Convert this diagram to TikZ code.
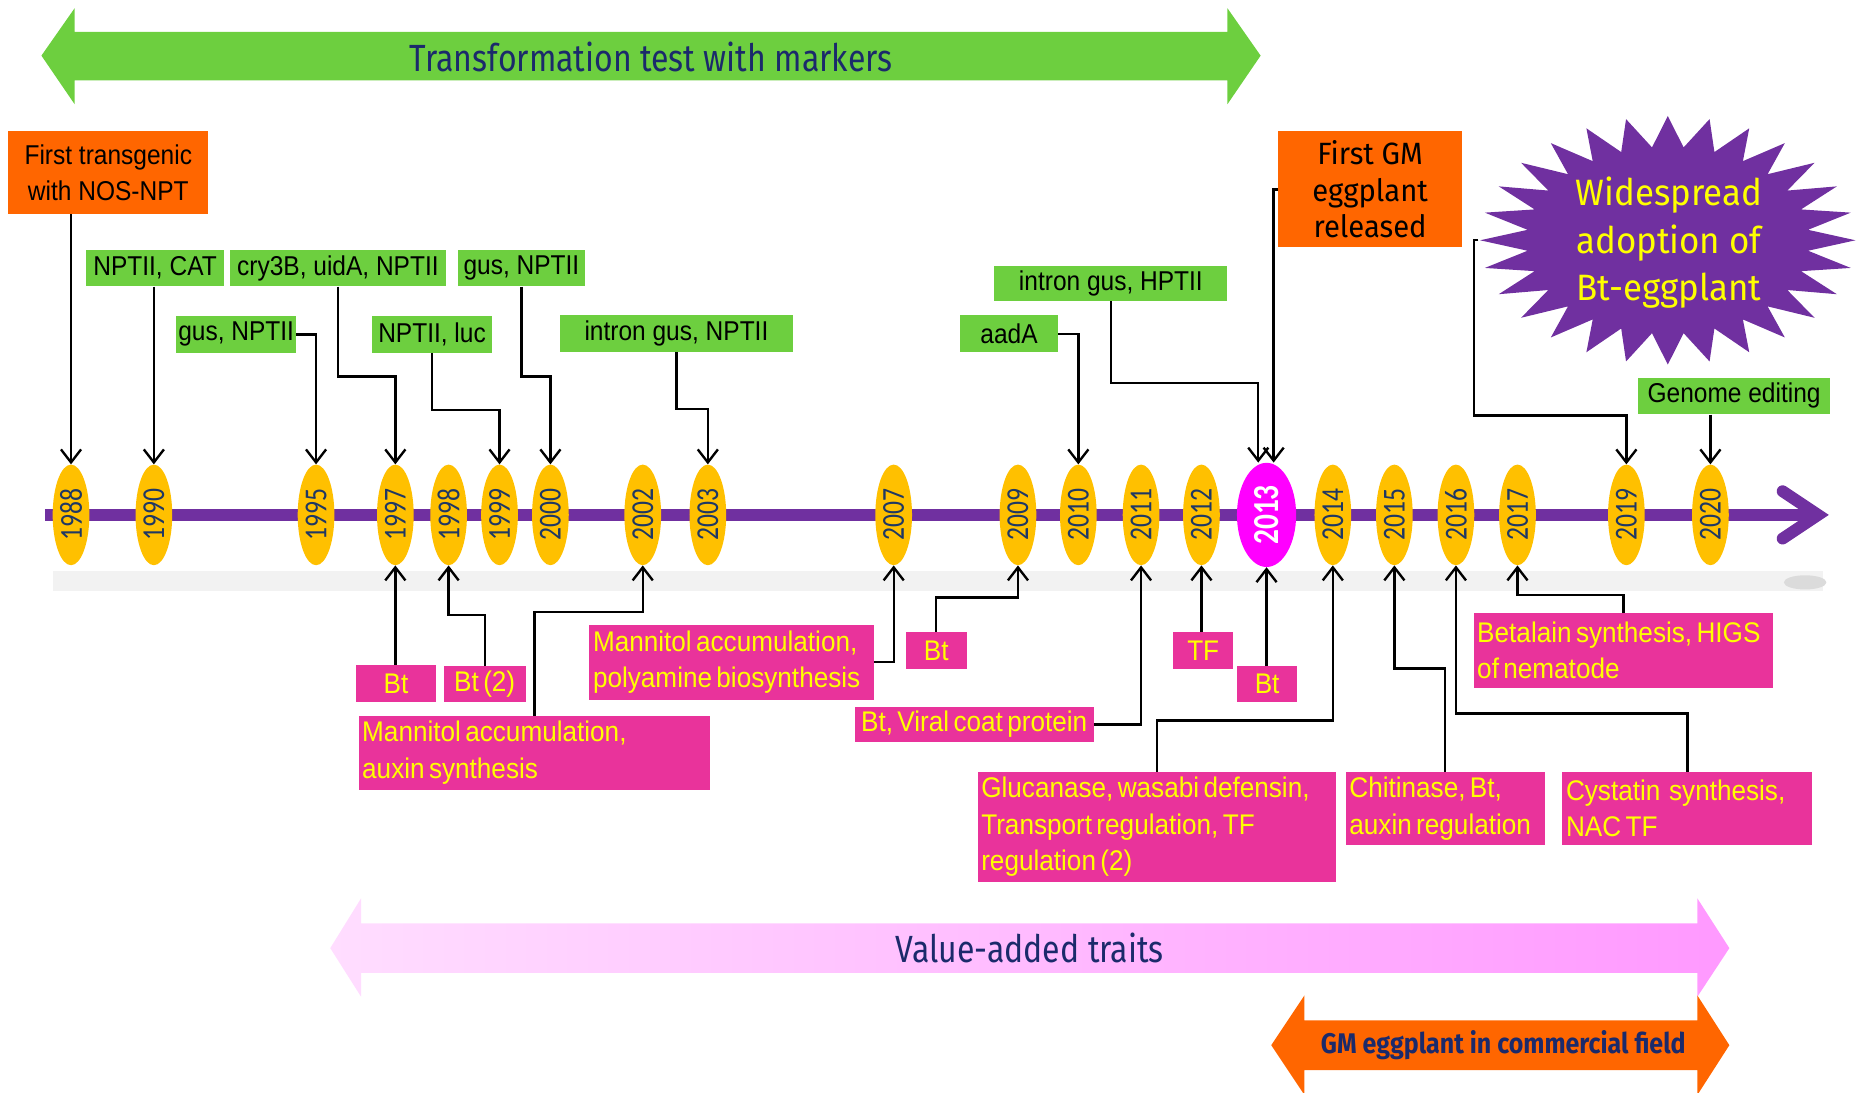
\documentclass[tikz,border=0pt]{standalone}
\usepackage{fontspec}
\usepackage{graphicx}
\usetikzlibrary{shapes.geometric, arrows.meta}

\newfontfamily\boxfont[FakeStretch=0.9]{Liberation Sans}
\newfontfamily\traitfont[FakeStretch=0.92, WordSpace=0.6]{Liberation Sans}
\newfontfamily\yearfont[FakeStretch=0.8]{Carlito}
\newfontfamily\bannerfont[FakeStretch=0.845]{Fira Sans}
\newfontfamily\fieldfont[FakeStretch=0.88]{Fira Sans}
\newfontfamily\calloutfont[FakeStretch=0.95]{Fira Sans}

\definecolor{markgreen}{HTML}{6DCF3F}
\definecolor{eventorange}{HTML}{FF6600}
\definecolor{traitpink}{HTML}{E9339B}
\definecolor{traityellow}{HTML}{FFFF00}
\definecolor{yeargold}{HTML}{FFC000}
\definecolor{yearblue}{HTML}{1F3864}
\definecolor{axispurple}{HTML}{7030A0}
\definecolor{hotmagenta}{HTML}{FF00FF}
\definecolor{bannerblue}{HTML}{1B2A6B}
\definecolor{valueleft}{HTML}{FFDDFF}
\definecolor{valueright}{HTML}{FF99FF}

\tikzset{
    yearnode/.style={ellipse, fill=yeargold, inner sep=0pt, minimum width=31,
        minimum height=85, text=yearblue, font=\yearfont\fontsize{27}{27}\selectfont},
    markbox/.style={fill=markgreen, text=black, inner sep=0pt, minimum height=31,
        font=\boxfont\fontsize{23}{27}\selectfont},
    traitbox/.style={fill=traitpink, text=traityellow, inner xsep=3pt, inner ysep=0pt,
        minimum height=31, font=\traitfont\fontsize{24}{31}\selectfont},
    eventbox/.style={fill=eventorange, text=black, inner sep=0pt, align=center},
    bannerlabel/.style={text=bannerblue, font=\bannerfont\fontsize{32}{32}\selectfont},
    link/.style={draw, line width=2pt, -{Straight Barb[length=11pt, width=17pt]}}
}

\begin{document}
\begin{tikzpicture}[x=1pt, y=-1pt]

    \useasboundingbox (0,0) rectangle (1568,923);

    % Phase banners, drawn as double headed block arrows
    \fill[markgreen] (35,47) -- (63,7) -- (63,27) -- (1037,27) -- (1037,7) -- (1065,47)
        -- (1037,88) -- (1037,68) -- (63,68) -- (63,88) -- cycle;
    \node[bannerlabel] (markers) at (550,48) {Transformation test with markers};

    \shade[left color=valueleft, right color=valueright] (279,801) -- (305,759) -- (305,780)
        -- (1434,780) -- (1434,759) -- (1461,801) -- (1434,842) -- (1434,822) -- (305,822)
        -- (305,842) -- cycle;
    \node[bannerlabel] (traits) at (870,801) {Value-added traits};

    \fill[eventorange] (1074,883) -- (1102,841) -- (1102,862) -- (1434,862) -- (1434,841)
        -- (1461,883) -- (1434,925) -- (1434,904) -- (1102,904) -- (1102,925) -- cycle;
    \node[bannerlabel, font=\fieldfont\bfseries\fontsize{24}{24}\selectfont] (field)
        at (1270,883) {GM eggplant in commercial field};

    % Faint shadow below the time axis
    \fill[black!5] (45,482) rectangle (1540,499);
    \fill[black!14] (1525,492) ellipse (18 and 6);

    % Time axis
    \draw[axispurple, line width=10pt,
        -{Straight Barb[length=30pt, width=40pt, line cap=round, line join=miter]}]
        (38,435) -- (1545,435);

    % Years along the axis
    \foreach \yr/\xx in {1988/60, 1990/130, 1995/267, 1997/334, 1998/379, 1999/422,
        2000/465, 2002/543, 2003/598, 2007/755, 2009/860, 2010/911, 2011/964,
        2012/1015, 2014/1126, 2015/1178, 2016/1230, 2017/1282, 2019/1374, 2020/1445}
        \node[yearnode] (y\yr) at (\xx,435) {\rotatebox{90}{\yr}};
    \node[yearnode, fill=hotmagenta, text=white, minimum width=50, minimum height=88,
        font=\yearfont\bfseries\fontsize{31}{31}\selectfont] (y2013) at (1070,435)
        {\rotatebox{90}{2013}};

    % Markers tested, above the axis
    \node[eventbox, minimum width=169, minimum height=70,
        font=\boxfont\fontsize{23}{31}\selectfont] (firsttg) at (91.5,146)
        {First transgenic\\with NOS-NPT};
    \node[markbox, minimum width=116] (mk1990) at (131,226.5) {NPTII, CAT};
    \node[markbox, minimum width=183] (mk1997) at (285.5,226.5) {cry3B, uidA, NPTII};
    \node[markbox, minimum width=107] (mk2000) at (440.5,226.5) {gus, NPTII};
    \node[markbox, minimum width=101] (mk1995) at (199.5,282.5) {gus, NPTII};
    \node[markbox, minimum width=102] (mk1999) at (365,282.5) {NPTII, luc};
    \node[markbox, minimum width=197] (mk2003) at (571.5,282) {intron gus, NPTII};
    \node[markbox, minimum width=83] (mk2010) at (852.5,282) {aadA};
    \node[markbox, minimum width=197, minimum height=30] (mk2013) at (938.5,239.5)
        {intron gus, HPTII};
    \node[eventbox, minimum width=155, minimum height=98,
        font=\calloutfont\fontsize{26}{31}\selectfont] (firstgm) at (1157.5,160)
        {First GM\\eggplant\\released};
    \node[markbox, minimum width=162] (mk2020) at (1465,334.5) {Genome editing};

    % Starburst for the adoption of Bt-eggplant
    \node[star, star points=28, star point ratio=1.33, fill=axispurple, inner sep=0pt,
        minimum size=210, xscale=1.51, transform shape] (burstshape) at (1409,203) {};
    \coordinate (burstedge) at (1249,203);
    \node[text=traityellow, align=center, font=\calloutfont\fontsize{31}{40}\selectfont]
        (burst) at (1410,205) {Widespread\\adoption of\\Bt-eggplant};

    % Traits added, below the axis
    \node[traitbox, minimum width=67] (tr1997) at (334.5,577.5) {Bt};
    \node[traitbox, minimum width=69, minimum height=30] (tr1998) at (409.5,578) {Bt (2)};
    \node[traitbox, text width=291, minimum height=62, align=flush left] (tr2002)
        at (451.5,636) {Mannitol accumulation,\\auxin synthesis};
    \node[traitbox, text width=234, minimum height=63, align=flush left] (tr2007)
        at (618,559.5) {Mannitol accumulation,\\polyamine biosynthesis};
    \node[traitbox, minimum width=52] (tr2009) at (791,549.5) {Bt};
    \node[traitbox, minimum width=202, minimum height=30] (tr2011) at (823,612)
        {Bt, Viral coat protein};
    \node[traitbox, minimum width=51] (tr2012) at (1016.5,549.5) {TF};
    \node[traitbox, minimum width=51, minimum height=30] (tr2013) at (1070.5,578) {Bt};
    \node[traitbox, text width=297, minimum height=93, align=flush left] (tr2014)
        at (977.5,698.5) {Glucanase, wasabi defensin,\\Transport regulation, TF\\regulation (2)};
    \node[traitbox, text width=162, minimum height=62, align=flush left] (tr2015)
        at (1221,683) {Chitinase, Bt,\\auxin regulation};
    \node[traitbox, text width=205, minimum height=62, align=flush left] (tr2016)
        at (1425.5,683) {Cystatin\ \ synthesis,\\NAC TF};
    \node[traitbox, text width=247, minimum height=63, align=flush left] (tr2017)
        at (1371.5,549.5) {Betalain synthesis, HIGS\\of nematode};

    % Connectors from the markers down to their years
    \begin{scope}[link]
        \draw (firsttg.south -| y1988.north) -- (y1988.north);
        \draw (mk1990.south -| y1990.north) -- (y1990.north);
        \draw (mk1995.east) -| (y1995.north);
        \draw (mk1997.south) -- ++(0,76) -| (y1997.north);
        \draw (mk1999.south) -- ++(0,48) -| (y1999.north);
        \draw (mk2000.south) -- ++(0,76) -| (y2000.north);
        \draw (mk2003.south) -- ++(0,48) -| (y2003.north);
        \draw (mk2010.east) -| (y2010.north);
        \draw (mk2013.south) -- ++(0,69) -| ([xshift=-7pt]y2013.north);
        \draw (firstgm.west) -| ([xshift=6pt]y2013.north);
        \draw (burstedge) -- ++(-4,0) -- ++(0,148) -| (y2019.north);
        \draw (mk2020.south -| y2020.north) -- (y2020.north);
    \end{scope}

    % Connectors from the traits up to their years
    \begin{scope}[link]
        \draw (tr1997.north -| y1997.south) -- (y1997.south);
        \draw (tr1998.north) -- ++(0,-43) -| (y1998.south);
        \draw (tr2002.north) -- ++(0,-88) -| (y2002.south);
        \draw (tr2007.east) -| (y2007.south);
        \draw (tr2009.north) -- ++(0,-29) -| (y2009.south);
        \draw (tr2011.east) -| (y2011.south);
        \draw (tr2012.north -| y2012.south) -- (y2012.south);
        \draw (tr2013.north -| y2013.south) -- (y2013.south);
        \draw (tr2014.north) -- ++(0,-43) -| (y2014.south);
        \draw (tr2015.north) -- ++(0,-87) -| (y2015.south);
        \draw (tr2016.north) -- ++(0,-49) -| (y2016.south);
        \draw (tr2017.north) -- ++(0,-15) -| (y2017.south);
    \end{scope}

\end{tikzpicture}
\end{document}
